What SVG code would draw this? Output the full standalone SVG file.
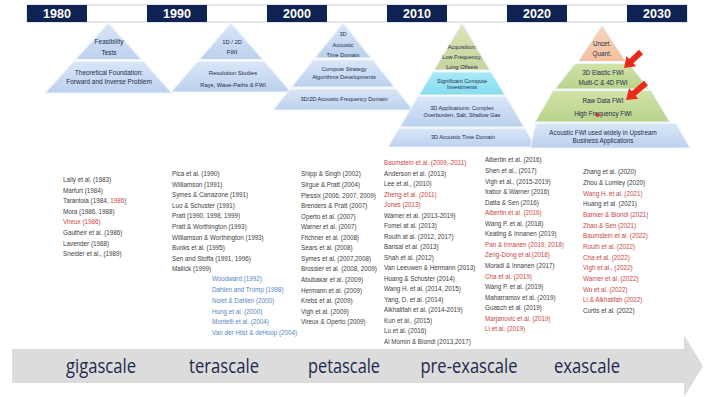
<svg xmlns="http://www.w3.org/2000/svg" width="705" height="397" viewBox="0 0 705 397">
<defs>
<linearGradient id="gBlue" x1="0" y1="0" x2="0" y2="1"><stop offset="0" stop-color="#d9e6f7"/><stop offset="1" stop-color="#bcd1ee"/></linearGradient>
<linearGradient id="gGreen" x1="0" y1="0" x2="0" y2="1"><stop offset="0" stop-color="#d2e3a8"/><stop offset="1" stop-color="#b9d38a"/></linearGradient>
<linearGradient id="gOlive" x1="0" y1="0" x2="0" y2="1"><stop offset="0" stop-color="#dde6bd"/><stop offset="1" stop-color="#c4d49a"/></linearGradient>
<linearGradient id="gCyan" x1="0" y1="0" x2="0" y2="1"><stop offset="0" stop-color="#a9eaf6"/><stop offset="1" stop-color="#86dcef"/></linearGradient>
<linearGradient id="gSalmon" x1="0" y1="0" x2="0" y2="1"><stop offset="0" stop-color="#f9d6bd"/><stop offset="1" stop-color="#f2c09e"/></linearGradient>
</defs>
<style>
.yb{fill:#0f2352}
.yt{font-family:"Liberation Sans",Arial,sans-serif;font-weight:bold;font-size:12.5px;fill:#ffffff;text-anchor:middle}
.tier{stroke:#eef4fb;stroke-width:1.2}
.blue{fill:url(#gBlue)}
.green{fill:url(#gGreen)}
.olive{fill:url(#gOlive)}
.cyan{fill:url(#gCyan)}
.salmon{fill:url(#gSalmon)}
.pt{font-family:"Liberation Sans",Arial,sans-serif;fill:#1c2b4a;text-anchor:middle}
.ref{font-family:"Liberation Sans",Arial,sans-serif;font-size:7.5px;fill:#3d3d3d}
.r{fill:#c9463f}
.b{fill:#5585c4}
.scale{font-family:"Open Sans","Noto Sans",sans-serif;font-size:20px;fill:#1c2a4d;text-anchor:middle}
.arrow{fill:#e8291c}
</style>
<rect width="705" height="397" fill="#ffffff"/>

<g id="timeline">
<rect x="27" y="5" width="660" height="17" fill="#ffffff" stroke="#c9ced8" stroke-width="1"/>
<rect class="yb" x="27" y="5" width="60" height="17"/><text class="yt" x="57" y="18">1980</text>
<rect class="yb" x="147" y="5" width="60" height="17"/><text class="yt" x="177" y="18">1990</text>
<rect class="yb" x="267" y="5" width="60" height="17"/><text class="yt" x="297" y="18">2000</text>
<rect class="yb" x="387" y="5" width="60" height="17"/><text class="yt" x="417" y="18">2010</text>
<rect class="yb" x="507" y="5" width="60" height="17"/><text class="yt" x="537" y="18">2020</text>
<rect class="yb" x="627" y="5" width="60" height="17"/><text class="yt" x="657" y="18">2030</text>
</g>

<g id="pyr1980">
<polygon class="tier blue" points="108.5,23 141.6,59.5 75.4,59.5"/>
<polygon class="tier blue" points="73.6,61.5 143.4,61.5 172,93 45,93"/>
<g class="pt" font-size="6.5">
<text x="109" y="43.5">Feasibility</text>
<text x="109" y="55.2">Tests</text>
<text x="109" y="75.2">Theoretical Foundation:</text>
<text x="109" y="84.2">Forward and Inverse Problem</text>
</g>
</g>

<g id="pyr1990">
<polygon class="tier blue" points="231,23 262.8,59.5 199.2,59.5"/>
<polygon class="tier blue" points="197.5,61.5 264.5,61.5 291,92 171,92"/>
<g class="pt" font-size="5.8">
<text x="232" y="43.5">1D / 2D</text>
<text x="232" y="54">FWI</text>
<text x="233" y="75">Resolution Studies</text>
<text x="233" y="87">Rays, Wave-Paths &amp; FWI</text>
</g>
</g>

<g id="pyr2000">
<polygon class="tier blue" points="343,23 371.2,58 314.8,58"/>
<polygon class="tier blue" points="313.2,60 372.8,60 394.5,87 291.5,87"/>
<polygon class="tier blue" points="289.9,89 396.1,89 413,110 273,110"/>
<g class="pt" font-size="5.6">
<text x="343" y="36.3">3D</text>
<text x="343" y="47">Acoustic</text>
<text x="343" y="57.3">Time Domain</text>
<text x="344" y="71.3">Compute Strategy</text>
<text x="344" y="78.7">Algorithms Developments</text>
<text x="344" y="101.3">3D/2D Acoustic Frequency Domain</text>
</g>
</g>

<g id="pyr2010">
<polygon class="tier olive" points="462,23 490,70 434,70"/>
<polygon class="tier cyan" points="432.7,72 491.3,72 505,95 419,95"/>
<polygon class="tier blue" points="418,96.5 506,96.5 524,127 400,127"/>
<polygon class="tier blue" points="399,128.5 525,128.5 536,147 388,147"/>
<g class="pt" font-size="5.6">
<text x="462" y="48.7">Acquisition:</text>
<text x="462" y="59.3">Low Frequency,</text>
<text x="462" y="68.7">Long Offsets</text>
<text x="462" y="82.5">Significant Compute</text>
<text x="462" y="89">Investments</text>
<text x="462" y="109.7">3D Applications: Complex</text>
<text x="462" y="116.5">Overburden, Salt, Shallow Gas</text>
<text x="463" y="139.3">3D Acoustic Time Domain</text>
</g>
</g>

<g id="pyr2030">
<polygon class="tier salmon" points="602,25 626,61.5 578,61.5"/>
<polygon class="tier green" points="575,63.5 629,63.5 649,89 555,89"/>
<polygon class="tier green" points="553,90.5 651,90.5 670,122 535,122"/>
<polygon class="tier blue" points="536,123.5 676,123.5 690,148 530,148"/>
<g class="pt" font-size="6.3">
<text x="602" y="45.5">Uncet.</text>
<text x="602" y="56.2">Quant.</text>
<text x="603" y="74.9">3D Elastic FWI</text>
<text x="603" y="84.9">Multi-C &amp; 4D FWI</text>
<text x="603" y="103.2">Raw Data FWI</text>
<text x="603" y="115.5">High Frequency FWI</text>
<text x="603" y="134.9">Acoustic FWI used widely in Upstream</text>
<text x="603" y="142.9">Business  Applications</text>
</g>
<circle cx="597.5" cy="115" r="2" fill="#e2302a"/>
</g>

<g id="red-arrows">
<path class="arrow" transform="translate(641,52) rotate(136.7)" d="M0,-3 L13.3,-3 L13.3,-7 L23.3,0 L13.3,7 L13.3,3 L0,3 Z"/>
<path class="arrow" transform="translate(646,83) rotate(139.6)" d="M0,-3 L16.2,-3 L16.2,-7 L26.2,0 L16.2,7 L16.2,3 L0,3 Z"/>
</g>

<g id="refs1980" class="ref" transform="translate(63,0) scale(0.84,1)">
<text x="0" y="182">Lally et al. (1983)</text>
<text x="0" y="192.6">Marfurt (1984)</text>
<text x="0" y="203.2">Tarantola (1984, <tspan class="r">1986</tspan>)</text>
<text x="0" y="213.8">Mora (1986, 1988)</text>
<text x="0" y="224.4" class="r">Vireux (1986)</text>
<text x="0" y="235">Gautheir et al. (1986)</text>
<text x="0" y="245.6">Lavender (1988)</text>
<text x="0" y="256.2">Sneider et al., (1989)</text>
</g>

<g id="refs1990" class="ref" transform="translate(172,0) scale(0.84,1)">
<text x="0" y="176">Pica et al. (1990)</text>
<text x="0" y="186.6">Williamson (1991)</text>
<text x="0" y="197.2">Symes &amp; Carrazone (1991)</text>
<text x="0" y="207.8">Luo &amp; Schuster (1991)</text>
<text x="0" y="218.4">Pratt (1990, 1998, 1999)</text>
<text x="0" y="229">Pratt &amp; Worthington (1993)</text>
<text x="0" y="239.6">Williamson &amp; Worthington (1993)</text>
<text x="0" y="250.2">Bunks et al. (1995)</text>
<text x="0" y="260.8">Sen and Stoffa (1991, 1996)</text>
<text x="0" y="271.4">Mallick (1999)</text>
</g>
<g id="refs1990b" class="ref" transform="translate(212,0) scale(0.84,1)">
<text x="0" y="281.5" class="b">Woodward (1992)</text>
<text x="0" y="292.2" class="b">Dahlen and Tromp (1998)</text>
<text x="0" y="302.9" class="b">Nolet &amp; Dahlen (2000)</text>
<text x="0" y="313.6" class="b">Hung et al. (2000)</text>
<text x="0" y="324.3" class="b">Montelli et al. (2004)</text>
<text x="0" y="335" class="b">Van der Hilst &amp; deHoop (2004)</text>
</g>

<g id="refs2000" class="ref" transform="translate(301,0) scale(0.84,1)">
<text x="0" y="176.5">Shipp &amp; Singh (2002)</text>
<text x="0" y="187.05">Sirgue  &amp; Pratt (2004)</text>
<text x="0" y="197.6">Plessix (2006, 2007, 2009)</text>
<text x="0" y="208.15">Brenders &amp; Pratt (2007)</text>
<text x="0" y="218.7">Operto et al. (2007)</text>
<text x="0" y="229.25">Warner et al. (2007)</text>
<text x="0" y="239.8">Fitchner et al. (2008)</text>
<text x="0" y="250.35">Sears et al. (2008)</text>
<text x="0" y="260.9">Symes et al. (2007,2008)</text>
<text x="0" y="271.45">Brossier et al. (2008, 2009)</text>
<text x="0" y="282">Abubakar et al. (2009)</text>
<text x="0" y="292.55">Hermann et al. (2009)</text>
<text x="0" y="303.1">Krebs et al. (2009)</text>
<text x="0" y="313.65">Vigh et al. (2009)</text>
<text x="0" y="324.2">Vireux &amp; Operto (2009)</text>
</g>

<g id="refs2010" class="ref" transform="translate(384,0) scale(0.84,1)">
<text x="0" y="165.5" class="r">Baumstein et al. (2009,-2011)</text>
<text x="0" y="176">Anderson et al. (2013)</text>
<text x="0" y="186.5">Lee et al., (2010)</text>
<text x="0" y="197" class="r">Zheng et al. (2011)</text>
<text x="0" y="207.4" class="r">Jones (2013)</text>
<text x="0" y="217.9">Warner et al. (2013-2019)</text>
<text x="0" y="228.4">Fomel at al. (2013)</text>
<text x="0" y="238.9">Routh at al. (2012, 2017)</text>
<text x="0" y="249.3">Bansal et al. (2013)</text>
<text x="0" y="259.8">Shah et al. (2012)</text>
<text x="0" y="270.3">Van Leeuwen &amp; Hermann (2013)</text>
<text x="0" y="280.8">Huang &amp; Schuster (2014)</text>
<text x="0" y="291.3">Wang H. et al, (2014, 2015)</text>
<text x="0" y="301.7">Yang, D. et al. (2014)</text>
<text x="0" y="312.2">Alkhalifah et al. (2014-2019)</text>
<text x="0" y="322.7">Kun et al., (2015)</text>
<text x="0" y="333.2">Lu et al. (2016)</text>
<text x="0" y="343.6">Al Momin &amp; Biondi (2013,2017)</text>
</g>

<g id="refs2020" class="ref" transform="translate(485,0) scale(0.84,1)">
<text x="0" y="162.5">Albertin et al. (2016)</text>
<text x="0" y="173.05">Shen et al., (2017)</text>
<text x="0" y="183.6">Vigh et al., (2015-2019)</text>
<text x="0" y="194.15">Irabor &amp; Warner (2016)</text>
<text x="0" y="204.7">Datta &amp; Sen (2016)</text>
<text x="0" y="215.25" class="r">Albertin et al. (2016)</text>
<text x="0" y="225.8">Wang P. et al, (2018)</text>
<text x="0" y="236.35">Keating &amp; Innanen (2019)</text>
<text x="0" y="246.9" class="r">Pan &amp; Innanen (2019, 2018)</text>
<text x="0" y="257.45" class="r">Zeng-Dong et al.(2018)</text>
<text x="0" y="268">Moradi &amp; Innanen (2017)</text>
<text x="0" y="278.55" class="r">Cha et al. (2019)</text>
<text x="0" y="289.1">Wang P. et al. (2019)</text>
<text x="0" y="299.65">Maharramov et al. (2019)</text>
<text x="0" y="310.2">Guasch et al. (2019)</text>
<text x="0" y="320.75" class="r">Marjanovic et al. (2019)</text>
<text x="0" y="331.3" class="r">Li et al. (2019)</text>
</g>

<g id="refs2030" class="ref" transform="translate(583,0) scale(0.84,1)">
<text x="0" y="174.5">Zhang et al. (2020)</text>
<text x="0" y="185.15">Zhou &amp; Lumley (2020)</text>
<text x="0" y="195.8" class="r">Wang H. et al. (2021)</text>
<text x="0" y="206.45">Huang et al. (2021)</text>
<text x="0" y="217.1" class="r">Barnier &amp; Biondi (2021)</text>
<text x="0" y="227.75" class="r">Zhao &amp; Sen (2021)</text>
<text x="0" y="238.4" class="r">Baumstein et al. (2022)</text>
<text x="0" y="249.05" class="r">Routh et al. (2022)</text>
<text x="0" y="259.7" class="r">Cha et al. (2022)</text>
<text x="0" y="270.35" class="r">Vigh et al., (2022)</text>
<text x="0" y="281" class="r">Warner et al. (2022)</text>
<text x="0" y="291.65" class="r">Wu et al. (2022)</text>
<text x="0" y="302.3" class="r">Li &amp; Alkhalifah (2022)</text>
<text x="0" y="312.95">Curtis et al. (2022)</text>
</g>

<g id="scale-arrow">
<path d="M12,349 L684,349 L684,335 L703,366 L684,397 L684,383 L12,383 Z" fill="#dcdcdc"/>
<text class="scale" x="101" y="373" textLength="70" lengthAdjust="spacingAndGlyphs">gigascale</text>
<text class="scale" x="224" y="373" textLength="70" lengthAdjust="spacingAndGlyphs">terascale</text>
<text class="scale" x="344" y="373" textLength="72" lengthAdjust="spacingAndGlyphs">petascale</text>
<text class="scale" x="469" y="373" textLength="97" lengthAdjust="spacingAndGlyphs">pre-exascale</text>
<text class="scale" x="587" y="373" textLength="66" lengthAdjust="spacingAndGlyphs">exascale</text>
</g>
</svg>
